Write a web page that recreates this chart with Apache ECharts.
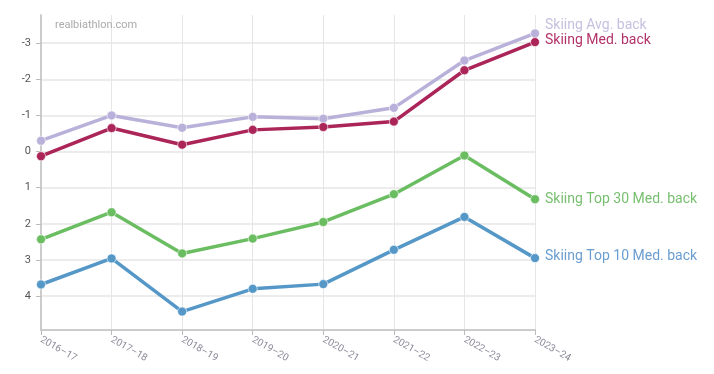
<!DOCTYPE html>
<html><head><meta charset="utf-8">
<script src="https://cdn.jsdelivr.net/npm/echarts@6/dist/echarts.min.js"></script>
<style>html,body{margin:0;padding:0;background:#fff}#c{width:714px;height:374px}</style>
</head><body><div id="c"></div>
<script>
const categories = ['2016–17','2017–18','2018–19','2019–20','2020–21','2021–22','2022–23','2023–24'];
const avgBack = [-0.30, -1.00, -0.66, -0.96, -0.91, -1.21, -2.52, -3.27];
const medBack = [0.13, -0.65, -0.19, -0.60, -0.68, -0.83, -2.25, -3.03];
const top30Back = [2.43, 1.68, 2.82, 2.41, 1.95, 1.18, 0.11, 1.32];
const top10Back = [3.68, 2.96, 4.43, 3.80, 3.67, 2.72, 1.81, 2.95];
const seriesNames = ['Skiing Avg. back','Skiing Med. back','Skiing Top 30 Med. back','Skiing Top 10 Med. back'];
const yMin = -3.78, yMax = 4.94;

const chart = echarts.init(document.getElementById('c'));
function mk(name, data, color, labelColor, dy) {
  return {
    name, type: 'line', data,
    symbol: 'circle', symbolSize: 9,
    lineStyle: { width: 3.5, color },
    itemStyle: { color, borderColor: 'rgba(255,255,255,0.6)', borderWidth: 1 },
    emphasis: { disabled: true },
    endLabel: { show: true, formatter: name, color: labelColor, fontSize: 14,
      fontFamily: 'Roboto', distance: 10, offset: [0, dy] },
    animation: false
  };
}
chart.setOption({
  animation: false,
  graphic: [{ type: 'text', left: 55, top: 20, z: 100,
    style: { text: 'realbiathlon.com', fill: '#aaa', fontSize: 11, fontFamily: 'Roboto', backgroundColor: 'transparent' } }],
  grid: { left: 41, right: 179, top: 15, bottom: 44 },
  xAxis: {
    type: 'category', data: categories, boundaryGap: false,
    axisLine: { onZero: false, lineStyle: { color: '#ccc', width: 2 } },
    axisTick: { show: true, length: 5, lineStyle: { color: '#bbb' } },
    axisLabel: { rotate: -30, color: '#8a8a9a', fontSize: 10, fontFamily: 'Roboto', margin: 9 },
    splitLine: { show: true, lineStyle: { color: '#e6e6e6', width: 1 } }
  },
  yAxis: {
    type: 'value', inverse: true, min: yMin, max: yMax,
    minInterval: 1, maxInterval: 1,
    axisLine: { show: true, lineStyle: { color: '#ccc', width: 2 } },
    axisTick: { show: true, length: 5, lineStyle: { color: '#bbb' } },
    axisLabel: { color: '#555', fontSize: 11, fontFamily: 'Roboto', margin: 10,
      showMinLabel: false, showMaxLabel: false },
    splitLine: { show: true, showMinLine: false, showMaxLine: false,
      lineStyle: { color: '#e6e6e6', width: 1.5 } }
  },
  series: [
    mk(seriesNames[0], avgBack, '#b9b1da', '#c6c0e0', -8),
    mk(seriesNames[1], medBack, '#ab2559', '#b2336a', -2),
    mk(seriesNames[2], top30Back, '#6bbd62', '#78bf70', 0),
    mk(seriesNames[3], top10Back, '#5598c8', '#6a9dd0', -2)
  ]
});
</script></body></html>
